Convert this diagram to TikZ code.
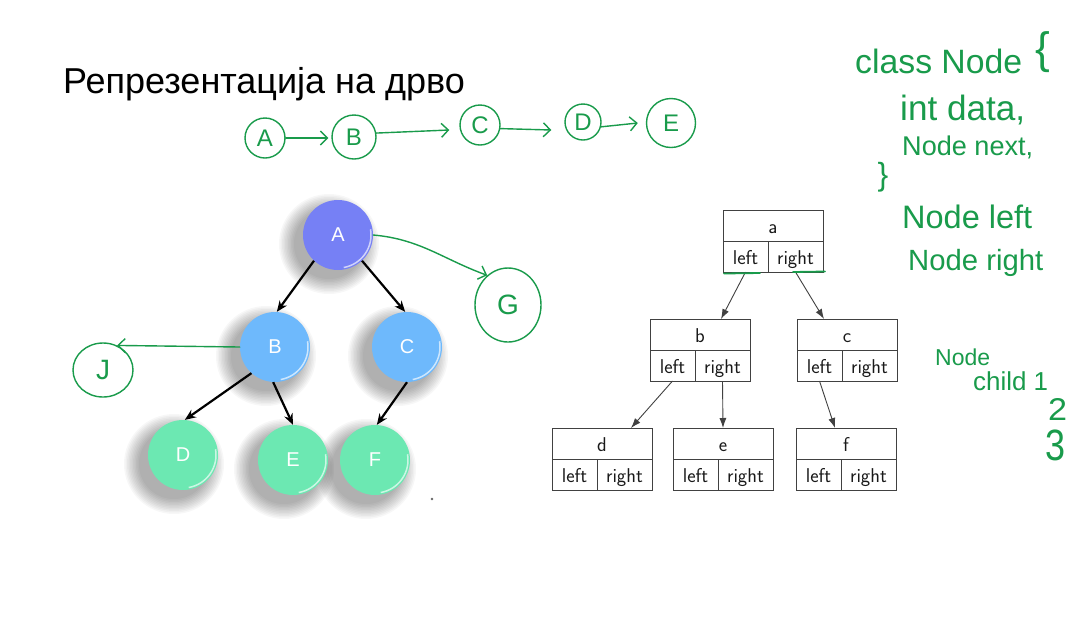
\documentclass[tikz,border=0pt]{standalone}
\usepackage{fontspec}
\setmainfont{Liberation Sans}
\usetikzlibrary{arrows.meta,shapes.geometric,calc}

\definecolor{ink}{RGB}{25,155,75}
\definecolor{rootc}{RGB}{118,128,245}
\definecolor{midc}{RGB}{110,185,252}
\definecolor{leafc}{RGB}{108,232,178}
\definecolor{boxline}{RGB}{65,65,65}

% record box: top cell with the key, bottom cells left/right
\newcommand\recnode[4]{%
  \node[cell, minimum width=100pt] (#1) at (#2+50,#3+15.5) {#4};
  \node[cell, minimum width=45pt] (#1l) at (#2+22.5,#3+46.5) {left};
  \node[cell, minimum width=55pt] (#1r) at (#2+72.5,#3+46.5) {right};}

\tikzset{
  ball/.style={circle, minimum size=70pt, inner sep=0pt, text=white,
    font=\fontsize{20}{20}\selectfont},
  rim/.style={white, opacity=.65, line width=1.5pt},
  treearrow/.style={-{Stealth[length=11pt,width=9pt]}, line width=2.2pt, black},
  hand/.style={ink, line width=1.4pt, line cap=round, line join=round},
  handarrow/.style={hand, -{Straight Barb[length=7pt,width=14pt]}},
  handball/.style={hand, draw, circle, inner sep=0pt, text=ink,
    font=\fontsize{24}{24}\selectfont},
  handoval/.style={hand, draw, ellipse, inner sep=0pt, text=ink,
    font=\fontsize{28}{28}\selectfont},
  handtext/.style={text=ink, inner sep=0pt, anchor=base west},
  cell/.style={draw=boxline, line width=1pt, inner sep=0pt, outer sep=0pt,
    minimum height=31pt, text height=16pt, text depth=1pt,
    font=\sffamily\fontsize{20}{20}\selectfont, text=black!90},
  boxarrow/.style={draw=boxline, line width=0.9pt, -{Latex[length=10pt,width=7pt]}},
}

\begin{document}
\begin{tikzpicture}[x=1pt, y=-1pt]
\path[use as bounding box, fill=white] (0,0) rectangle (1082,633);

% title
\node[anchor=base west, inner sep=0pt, font=\fontsize{36}{36}\selectfont] (title)
  at (63,93) {Репрезентација на дрво};

% linked list sketch
\node[handball, minimum size=40pt] (lA) at (265,138) {A};
\node[handball, minimum size=44pt] (lB) at (354,137) {B};
\node[handball, minimum size=40pt] (lC) at (480,125) {C};
\node[handball, minimum size=36pt] (lD) at (583,122) {D};
\node[handball, minimum size=49pt] (lE) at (671,123) {E};
\draw[handarrow] (lA.east) -- ($(lB.west)+(-3,1)$);
\draw[handarrow] (lB.10) -- ($(lC.west)+(-10,5)$);
\draw[handarrow] (lC.-10) -- ($(lD.west)+(-13,8)$);
\draw[handarrow] (lD.-15) -- ($(lE.west)+(-8,0)$);

% tree of coloured balls: centres, soft shadows, then the balls
\coordinate (cA) at (338,235);
\coordinate (cB) at (275,347);
\coordinate (cC) at (407,347);
\coordinate (cD) at (183,455);
\coordinate (cE) at (293,460);
\coordinate (cF) at (375,460);
\foreach \c in {cA,cB,cC,cD,cE,cF}
  \foreach \r in {35,36.5,...,50}
    \fill[black, opacity=.032] ([shift={(-9pt,-9pt)}]\c) circle[radius=\r pt];

\node[ball, fill=leafc] (tF) at (cF) {F};
\node[ball, fill=leafc] (tE) at (cE) {E};
\node[ball, fill=leafc] (tD) at (cD) {D};
\node[ball, fill=midc]  (tC) at (cC) {C};
\node[ball, fill=midc]  (tB) at (cB) {B};
\node[ball, fill=rootc] (tA) at (cA) {A};
\foreach \n in {tA,tB,tC,tD,tE,tF}
  \draw[rim] ([shift={(-80:33pt)}]\n.center) arc[start angle=-80, end angle=10, radius=33pt];

\draw[treearrow] (tA.227) -- (tB.87);
\draw[treearrow] (tA.313) -- (tC.93);
\draw[treearrow] (tB.228) -- (tD.87);
\draw[treearrow] (tB.267) -- (tE.90);
\draw[treearrow] (tC.270) -- (tF.87);

% extra sketched children
\node[handoval, minimum width=66pt, minimum height=74pt] (gG) at (508,305) {G};
\node[handoval, minimum width=60pt, minimum height=54pt] (jJ) at (103,370) {J};
\draw[handarrow] (tA.east) to[out=-5, in=160] (gG.125);
\draw[handarrow] (tB.west) -- (jJ.60);

\node[circle, fill=black!60, inner sep=0.9pt] (dot) at (432,499) {};

% record boxes
\recnode{a}{723}{210}{a}
\recnode{b}{650}{319}{b}
\recnode{c}{797}{319}{c}
\recnode{d}{552}{428}{d}
\recnode{e}{673}{428}{e}
\recnode{f}{796}{428}{f}

\draw[boxarrow] (al.south) -- ($(b.north west)+(71,0)$);
\draw[boxarrow] (ar.south) -- ($(c.north west)+(27,0)$);
\draw[boxarrow] (bl.south) -- ($(d.north west)+(79,0)$);
\draw[boxarrow] (br.south) -- (e.north);
\draw[boxarrow] (cl.south) -- ($(f.north west)+(39,0)$);

% marks under the pointer cells
\draw[hand, line width=1.8pt] ($(al.south west)+(1,1.5)$) -- ($(al.south west)+(37,1)$);
\draw[hand, line width=1.8pt] ($(ar.south west)+(25,0)$) -- ($(ar.south east)+(2,-0.5)$);

% class notes
\node[handtext] (n1) at (855,73) {\resizebox{167pt}{!}{class Node}};
\node[text=ink, inner sep=0pt, font=\fontsize{44}{44}\selectfont] (n1b) at (1043,52) {\{};
\node[handtext] (n2) at (900,120) {\resizebox{125pt}{!}{int data,}};
\node[handtext] (n3) at (902,155) {\resizebox{131pt}{!}{Node next,}};
\node[text=ink, inner sep=0pt, font=\fontsize{32}{32}\selectfont] (n3b) at (883,177) {\}};
\node[handtext] (n4) at (902,228) {\resizebox{130pt}{!}{Node left}};
\node[handtext] (n5) at (908,270) {\resizebox{135pt}{!}{Node right}};
\node[handtext] (n6) at (935,365) {\resizebox{55pt}{!}{Node}};
\node[handtext] (n7) at (973,390) {\resizebox{75pt}{!}{child 1}};
\node[handtext] (n8) at (1048,420) {\resizebox*{19pt}{22pt}{2}};
\node[handtext] (n9) at (1045,460) {\resizebox*{20pt}{31pt}{3}};
\end{tikzpicture}
\end{document}
